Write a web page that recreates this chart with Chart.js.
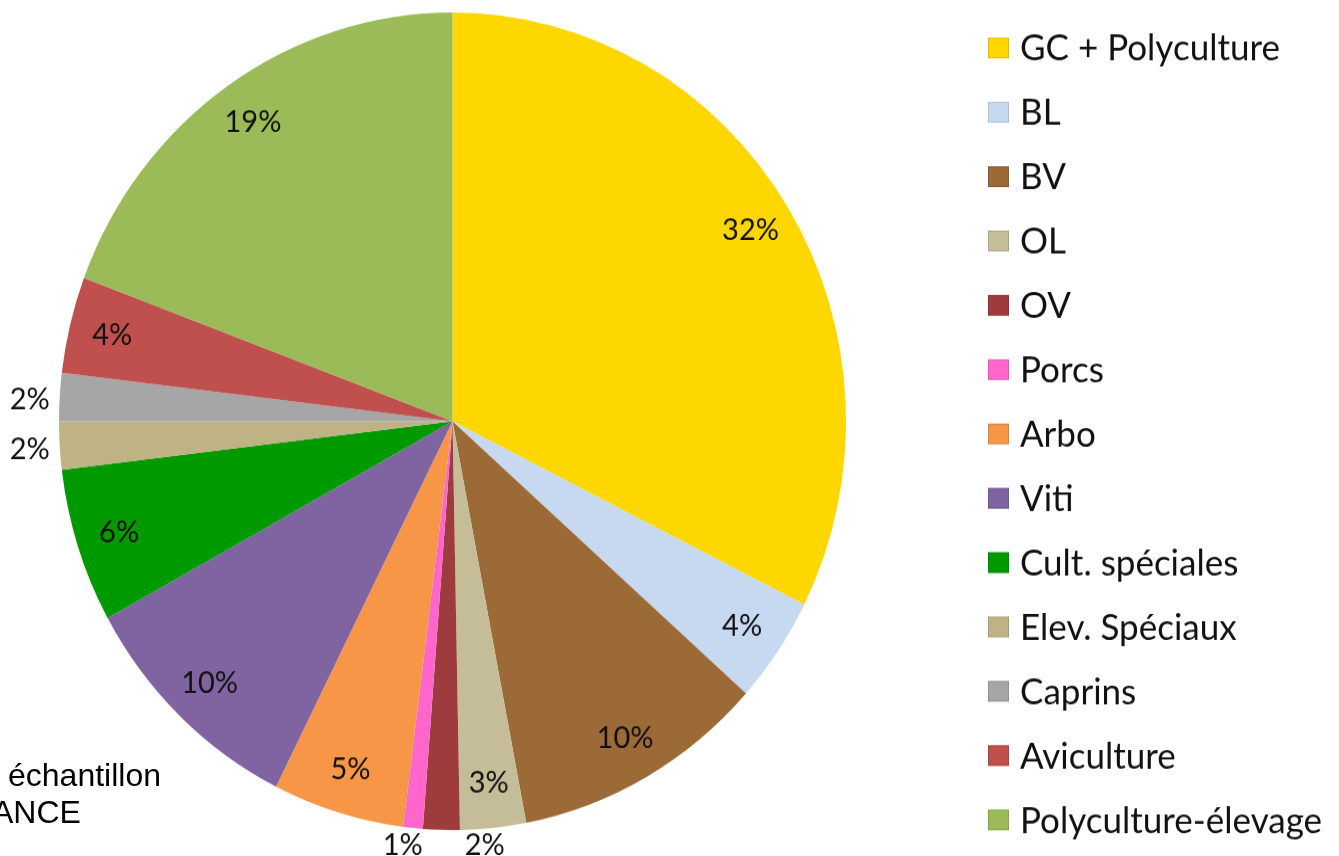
<!DOCTYPE html>
<html>
<head>
<meta charset="utf-8">
<script src="https://cdn.jsdelivr.net/npm/chart.js"></script>
<style>
  html, body { margin: 0; padding: 0; background: #fff; overflow: hidden; }
  #wrap { position: relative; width: 1339px; height: 856px; }
  #chart { position: absolute; left: 0; top: 0; }
  .note { position: absolute; font-family: "Liberation Sans", Arial, sans-serif; font-size: 32px; line-height: 1; color: #000; white-space: pre; }
</style>
</head>
<body>
<div id="wrap">
  <!-- the source picture is a little taller than wide, so the canvas is stretched vertically -->
  <canvas id="chart" width="1339" height="824" style="width:1339px;height:856px;"></canvas>
  <div class="note" style="left:8px; top:759px;">échantillon</div>
  <div class="note" style="left:-8px; top:796px;">ANCE</div>
</div>
<script>
// categories, clockwise from 12 o'clock
const categories = ['GC + Polyculture', 'BL', 'BV', 'OL', 'OV', 'Porcs', 'Arbo', 'Viti',
  'Cult. spéciales', 'Elev. Spéciaux', 'Caprins', 'Aviculture', 'Polyculture-élevage'];
// share of the sample, %
const shares = [32.4, 4.2, 10.4, 2.7, 1.5, 0.8, 5.4, 9.6, 6.1, 1.9, 1.9, 3.8, 19.3];
const colors = ['#FFD700', '#C6D9F1', '#9C6A37', '#C4BD97', '#9E3B3D', '#FF66CC', '#F79646',
  '#8064A2', '#009A00', '#BFB385', '#A6A6A6', '#C0504D', '#9BBB59'];

const FONT = 'Lato, "Noto Sans", sans-serif';

// small slices get their label outside the pie, nudged a bit to avoid overlap
const labelShift = {
  'OV': [44, -7],
  'Porcs': [-8, -5],
  'Elev. Spéciaux': [-8, 2],
  'Caprins': [-8, 4],
};

const sliceLabels = {
  id: 'sliceLabels',
  afterDatasetsDraw(chart) {
    const ctx = chart.ctx;
    const meta = chart.getDatasetMeta(0);
    ctx.save();
    ctx.font = '29px ' + FONT;
    ctx.fillStyle = '#111';
    ctx.textAlign = 'center';
    ctx.textBaseline = 'middle';
    meta.data.forEach((arc, i) => {
      const p = arc.getProps(['x', 'y', 'startAngle', 'endAngle', 'outerRadius'], true);
      const mid = (p.startAngle + p.endAngle) / 2;
      const v = shares[i];
      let r = p.outerRadius * 0.89;
      let dx = 0, dy = 0;
      if (v < 2.5) {
        r = p.outerRadius + 22;
        [dx, dy] = labelShift[categories[i]] || [0, 0];
      }
      const x = p.x + Math.cos(mid) * r + dx;
      const y = p.y + Math.sin(mid) * r + dy;
      ctx.fillText(Math.round(v) + '%', x, y);
    });
    ctx.restore();
  }
};

const sideLegend = {
  id: 'sideLegend',
  afterDraw(chart) {
    const ctx = chart.ctx;
    ctx.save();
    ctx.font = '35px ' + FONT;
    ctx.textBaseline = 'middle';
    ctx.textAlign = 'left';
    categories.forEach((name, i) => {
      const y = 46.2 + i * 61.92;
      ctx.fillStyle = colors[i];
      ctx.fillRect(988, y - 10, 21, 20);
      ctx.strokeStyle = 'rgba(0,0,0,0.12)';
      ctx.lineWidth = 1;
      ctx.strokeRect(988.5, y - 9.5, 20, 19);
      ctx.fillStyle = '#111';
      ctx.fillText(name, 1020, y + 1);
    });
    ctx.restore();
  }
};

new Chart(document.getElementById('chart'), {
  type: 'pie',
  data: {
    labels: categories,
    datasets: [{
      data: shares,
      backgroundColor: colors,
      borderWidth: 0,
    }],
  },
  options: {
    responsive: false,
    animation: false,
    layout: { padding: { left: 59, top: 12, right: 493, bottom: 25 } },
    plugins: {
      legend: { display: false },
      tooltip: { enabled: false },
    },
  },
  plugins: [sliceLabels, sideLegend],
});
</script>
</body>
</html>
